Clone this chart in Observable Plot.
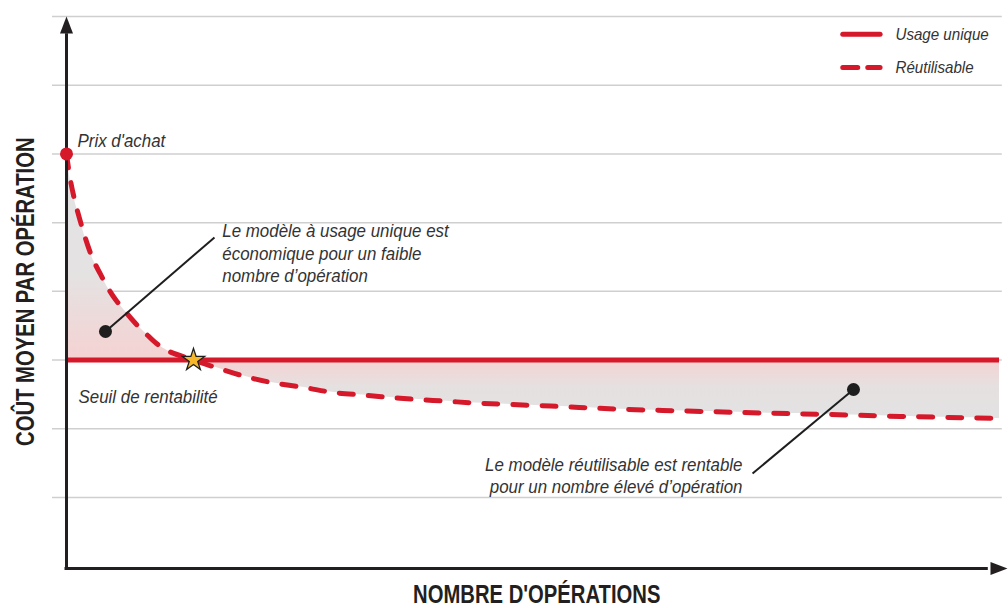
<!DOCTYPE html>
<html>
<head>
<meta charset="utf-8">
<script src="https://cdn.jsdelivr.net/npm/d3@7"></script>
<script src="https://cdn.jsdelivr.net/npm/@observablehq/plot@0.6"></script>
<style>
  html, body { margin: 0; padding: 0; background: #fff; }
  #chart svg { display: block; }
</style>
</head>
<body>
<div id="chart"></div>
<script>
// ---- data ----
const operations = [0,0.43,0.96,1.61,2.25,2.89,3.64,4.39,5.25,6.22,7.29,8.47,9.65,10.93,13.61,16.29,19.19,22.08,25.51,28.51,31.73,34.73,37.73,40.84,43.84,51.88,59.38,68.81,75.78,81.35,89.39,100];
const reusableCost = [6.0,5.61,5.28,4.96,4.68,4.45,4.25,4.06,3.88,3.72,3.55,3.39,3.24,3.13,3.0,2.88,2.76,2.67,2.60,2.53,2.49,2.455,2.425,2.40,2.375,2.33,2.285,2.25,2.225,2.21,2.18,2.15];
const singleUseCost = 3;
const purchasePrice = 6;
const breakEven = {x: 13.61, y: 3};
const gridTicks = [1,2,3,4,5,6,7,8];
const seriesNames = ["Usage unique", "Réutilisable"];
const axisTitles = {x: "NOMBRE D'OPÉRATIONS", y: "COÛT MOYEN PAR OPÉRATION"};
const notesLeft = [
  {label: "Prix d'achat", x: 1.18, y: 6.2},
  {label: "Seuil de rentabilité", x: 1.29, y: 2.485},
  {label: "Le modèle à usage unique est\néconomique pour un faible\nnombre d’opération", x: 16.7, y: 4.566}
];
const notesRight = [
  {label: "Le modèle réutilisable est rentable\npour un nombre élevé d’opération", x: 72.45, y: 1.335}
];
const leaders = [
  {x1: 4.18, y1: 3.416, x2: 15.86, y2: 4.785},
  {x1: 84.35, y1: 2.572, x2: 73.53, y2: 1.349}
];

// ---- build ----
const table = operations.map((x, i) => ({x, reuse: reusableCost[i], single: singleUseCost}));
const RED = "#d5182a";
const INK = "#231f20";
const FONT = "'Liberation Sans', Arial, Helvetica, sans-serif";

const arrowHead = {
  draw(ctx) {
    ctx.moveTo(0, 0);
    ctx.lineTo(-6.5, 17);
    ctx.lineTo(6.5, 17);
    ctx.closePath();
  }
};

const xMin = -0.035; // x-axis baseline in y units
const legendY = [7.74, 7.258];
const legendX = [83.2, 87.2, 88.85];
const noteStyle = {fontSize: 19, fontStyle: "italic", fill: "#333", lineHeight: 1.16};

const chart = Plot.plot({
  width: 1008,
  height: 608,
  marginTop: 16,
  marginBottom: 42.3,
  marginLeft: 66,
  marginRight: 9,
  x: {domain: [0, 100], axis: null},
  y: {domain: [0, 8], axis: null},
  style: {fontFamily: FONT, background: "#fff", overflow: "visible"},
  marks: [
    Plot.ruleY(gridTicks, {x1: -1.5, x2: 100.3, stroke: "#cfcfcf", strokeWidth: 1.5}),
    Plot.areaY(table, {x: "x", y1: "reuse", y2: "single", fill: "url(#fillGrad)", curve: "catmull-rom"}),
    Plot.ruleY([singleUseCost], {x1: 0, x2: 100, stroke: RED, strokeWidth: 5}),
    Plot.lineY(table, {x: "x", y: "reuse", stroke: RED, strokeWidth: 5, strokeDasharray: "14,15", strokeLinecap: "round", curve: "catmull-rom"}),
    // axes
    Plot.ruleX([0], {y1: xMin, y2: 7.75, stroke: INK, strokeWidth: 3}),
    Plot.ruleY([xMin], {x1: -0.16, x2: 98.8, stroke: INK, strokeWidth: 3}),
    Plot.dot([{x: 0, y: 8}], {x: "x", y: "y", symbol: arrowHead, fill: INK, stroke: "none", r: 5}),
    Plot.dot([{x: 100.86, y: xMin}], {x: "x", y: "y", symbol: arrowHead, fill: INK, stroke: "none", r: 5, rotate: 90}),
    // leaders
    Plot.link(leaders, {x1: "x1", y1: "y1", x2: "x2", y2: "y2", stroke: "#1e1e1e", strokeWidth: 2}),
    Plot.dot(leaders, {x: "x1", y: "y1", r: 6.5, fill: "#1e1e1e"}),
    // purchase price dot
    Plot.dot([purchasePrice], {x: 0, y: d => d, r: 6.5, fill: RED}),
    // break-even star
    Plot.dot([breakEven], {x: "x", y: "y", symbol: "star", r: 7, fill: "#f6b82a", stroke: "#1e1e1e", strokeWidth: 1.3}),
    // notes
    Plot.text(notesLeft, {x: "x", y: "y", text: "label", textAnchor: "start", ...noteStyle}),
    Plot.text(notesRight, {x: "x", y: "y", text: "label", textAnchor: "end", ...noteStyle}),
    // legend
    Plot.lineY([{x: legendX[0], y: legendY[0]}, {x: legendX[1], y: legendY[0]}], {x: "x", y: "y", stroke: RED, strokeWidth: 5, strokeLinecap: "round"}),
    Plot.lineY([{x: legendX[0], y: legendY[1]}, {x: legendX[1], y: legendY[1]}], {x: "x", y: "y", stroke: RED, strokeWidth: 5, strokeLinecap: "round", strokeDasharray: "15,10"}),
    Plot.text(seriesNames, {x: legendX[2], y: (d, i) => legendY[i], text: d => d, textAnchor: "start", fontSize: 17, fontStyle: "italic", fill: "#333"}),
    // axis titles
    Plot.text([axisTitles.x], {x: 50.4, y: -0.42, text: d => d, fontSize: 25, fontWeight: "bold", fill: INK}),
    Plot.text([axisTitles.y], {x: -4.29, y: 3.995, text: d => d, fontSize: 25, fontWeight: "bold", fill: INK, rotate: -90})
  ]
});

// condensed look: narrow every label horizontally around its anchor
const titles = new Set(Object.values(axisTitles));
d3.select(chart).selectAll("text").each(function () {
  const t = this.getAttribute("transform") || "";
  const sx = titles.has(this.textContent) ? 0.81 : 0.89;
  this.setAttribute("transform", `${t} scale(${sx},1)`);
});

// gradient fill for the gap between the two cost curves
const yScale = chart.scale("y");
const gTop = yScale.apply(purchasePrice), gBottom = yScale.apply(d3.min(reusableCost)), gMid = yScale.apply(singleUseCost);
const off = (gMid - gTop) / (gBottom - gTop);
const grad = d3.select(chart).insert("defs", ":first-child")
  .append("linearGradient")
  .attr("id", "fillGrad")
  .attr("gradientUnits", "userSpaceOnUse")
  .attr("x1", 0).attr("x2", 0).attr("y1", gTop).attr("y2", gBottom);
[[0, "#e2e2e2"], [off * 0.6, "#e5e2e2"], [off, "#f5d2d2"], [off + (1 - off) * 0.45, "#e6e0e0"], [1, "#e2e2e2"]]
  .forEach(([o, c]) => grad.append("stop").attr("offset", o).attr("stop-color", c));

document.getElementById("chart").appendChild(chart);
</script>
</body>
</html>
